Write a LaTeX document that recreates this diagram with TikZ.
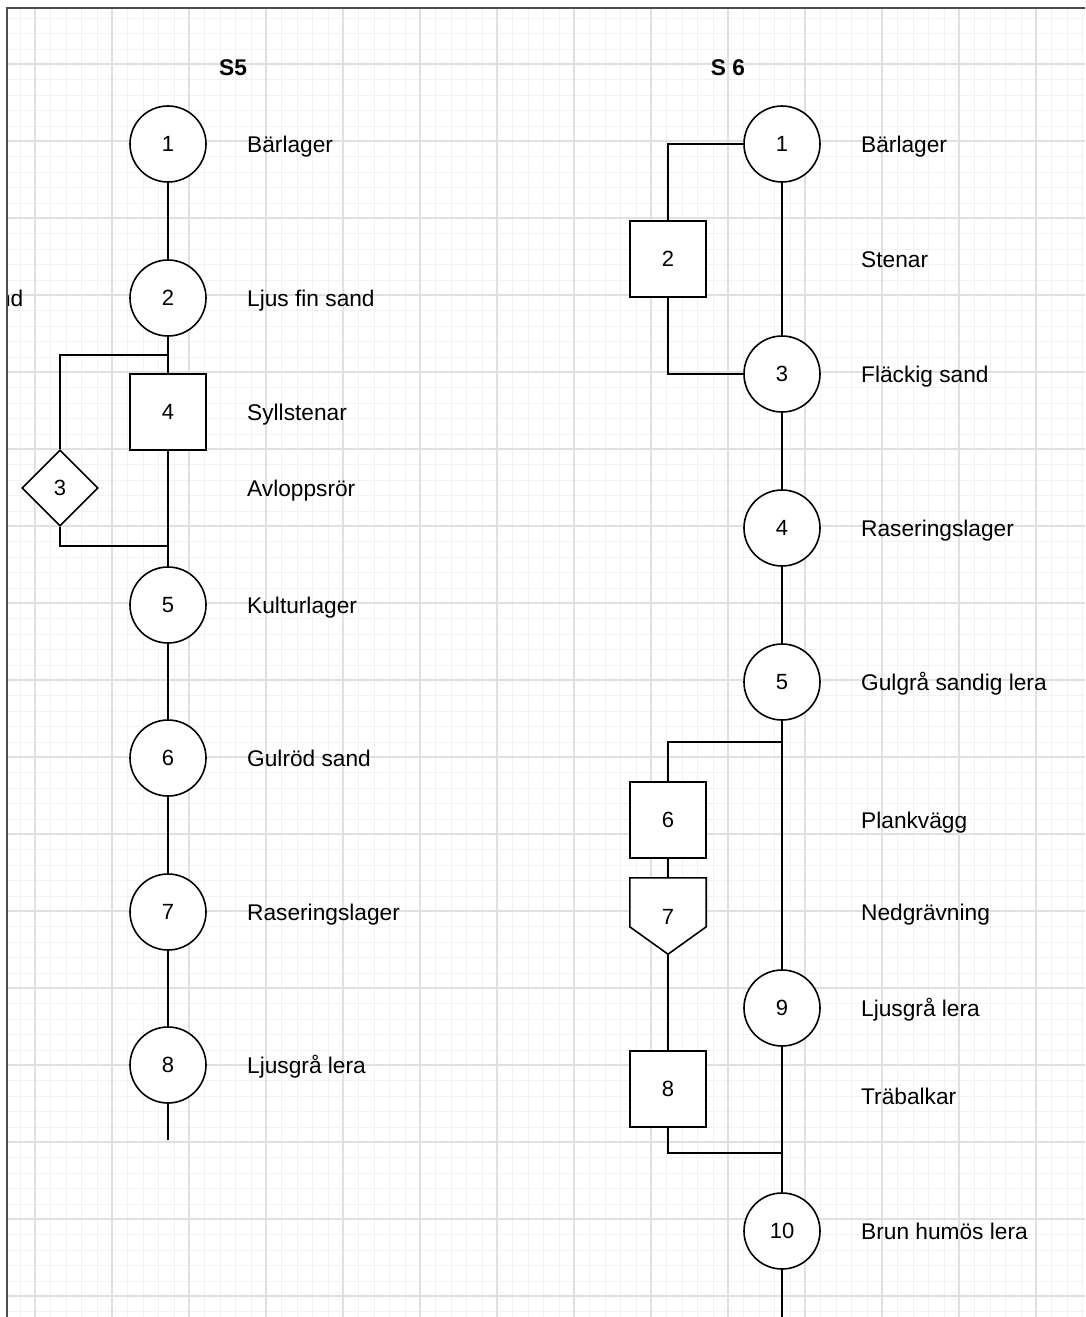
\documentclass[tikz,border=0pt]{standalone}
\usepackage{fontspec}
\setmainfont{Liberation Sans}
\usetikzlibrary{shapes.geometric,calc}
\tikzset{
  circ/.style={circle, draw, line width=1.6pt, fill=white, minimum size=76pt, inner sep=0pt, font=\fontsize{22}{26}\selectfont},
  sqbox/.style={rectangle, draw, line width=1.6pt, fill=white, minimum size=76pt, inner sep=0pt, font=\fontsize{22}{26}\selectfont},
  diabox/.style={diamond, draw, line width=1.6pt, fill=white, minimum width=76pt, minimum height=76pt, inner sep=0pt, aspect=1, font=\fontsize{22}{26}\selectfont},
  pentbox/.style={rectangle, minimum width=76pt, minimum height=76pt, inner sep=0pt},
  lbl/.style={anchor=base west, inner sep=0pt, font=\fontsize{22.7}{26}\selectfont},
  ttl/.style={anchor=center, inner sep=0pt, font=\fontsize{22.7}{26}\selectfont\bfseries},
  conn/.style={line width=1.6pt},
  gmajor/.style={line width=2pt, color=black!12},
  gminor/.style={line width=1pt, color=black!5},
}
\begin{document}
\begin{tikzpicture}[x=1pt,y=-1pt]
\useasboundingbox (0,0) rectangle (1085,1317);
\fill[white] (0,0) rectangle (1085,1317);
% grid
\begin{scope}
\clip (7,8) rectangle (1085,1317);
\foreach \i in {0,...,75} {\draw[gminor] ({round(-42+\i*15.4)+0.5},8) -- ({round(-42+\i*15.4)+0.5},1317);}
\foreach \i in {0,...,90} {\draw[gminor] (7,{round(-13+\i*15.4)+0.5}) -- (1085,{round(-13+\i*15.4)+0.5});}
\foreach \i in {0,...,15} {\draw[gmajor] ({-42+\i*77},8) -- ({-42+\i*77},1317);}
\foreach \i in {0,...,18} {\draw[gmajor] (7,{-13+\i*77}) -- (1085,{-13+\i*77});}
\node[anchor=base east, inner sep=0pt, font=\fontsize{22.7}{26}\selectfont] (lsand) at (23.5,306) {sand};
\end{scope}
\draw[line width=1.5pt, black!70] (7,1317) -- (7,8) -- (1085,8);

% titles
\node[ttl] (t5) at (233,68) {S5};
\node[ttl] (t6) at (728,68) {S 6};

% S5 column
\node[circ] (a1) at (168,144) {1};
\node[circ] (a2) at (168,298) {2};
\node[sqbox] (a4) at (168,412) {4};
\node[diabox] (a3) at (60,488) {3};
\node[circ] (a5) at (168,605) {5};
\node[circ] (a6) at (168,758) {6};
\node[circ] (a7) at (168,912) {7};
\node[circ] (a8) at (168,1065) {8};
\coordinate (a4j) at (168,355);
\coordinate (a5j) at (168,546);
\coordinate (a8e) at (168,1140);

\draw[conn] (a1) -- (a2);
\draw[conn] (a2) -- (a4);
\draw[conn] (a4j) -| (a3.north);
\draw[conn] (a4) -- (a5);
\draw[conn] (a3.south) |- (a5j);
\draw[conn] (a5) -- (a6);
\draw[conn] (a6) -- (a7);
\draw[conn] (a7) -- (a8);
\draw[conn] (a8) -- (a8e);

\node[lbl] (la1) at (247,152) {Bärlager};
\node[lbl] (la2) at (247,306) {Ljus fin sand};
\node[lbl] (la4) at (247,420) {Syllstenar};
\node[lbl] (la3) at (247,496) {Avloppsrör};
\node[lbl] (la5) at (247,613) {Kulturlager};
\node[lbl] (la6) at (247,766) {Gulröd sand};
\node[lbl] (la7) at (247,920) {Raseringslager};
\node[lbl] (la8) at (247,1073) {Ljusgrå lera};

% S6 column
\node[circ] (b1) at (782,144) {1};
\node[sqbox] (b2) at (668,259) {2};
\node[circ] (b3) at (782,374) {3};
\node[circ] (b4) at (782,528) {4};
\node[circ] (b5) at (782,682) {5};
\node[sqbox] (b6) at (668,820) {6};
\node[pentbox] (b7) at (668,916) {};
\draw[conn, fill=white] (b7.north west) -- (b7.north east) -- ($(b7.north east)+(0,49)$) -- (b7.south) -- ($(b7.north west)+(0,49)$) -- cycle;
\node[inner sep=0pt, font=\fontsize{22}{26}\selectfont] (b7t) at (668,917) {7};
\node[sqbox] (b8) at (668,1089) {8};
\node[circ] (b9) at (782,1008) {9};
\node[circ] (b10) at (782,1231) {10};
\coordinate (b5j) at (782,742);
\coordinate (b8j) at (782,1153);
\coordinate (b10e) at (782,1317);

\draw[conn] (b1) -- (b3);
\draw[conn] (b1.west) -| (b2.north);
\draw[conn] (b2.south) |- (b3.west);
\draw[conn] (b3) -- (b4);
\draw[conn] (b4) -- (b5);
\draw[conn] (b5) -- (b9);
\draw[conn] (b5j) -| (b6.north);
\draw[conn] (b6.south) -- (b7.north);
\draw[conn] (b7.south) -- (b8.north);
\draw[conn] (b8.south) |- (b8j);
\draw[conn] (b9) -- (b10);
\draw[conn] (b10) -- (b10e);

\node[lbl] (lb1) at (861,152) {Bärlager};
\node[lbl] (lb2) at (861,267) {Stenar};
\node[lbl] (lb3) at (861,382) {Fläckig sand};
\node[lbl] (lb4) at (861,536) {Raseringslager};
\node[lbl] (lb5) at (861,690) {Gulgrå sandig lera};
\node[lbl] (lb6) at (861,828) {Plankvägg};
\node[lbl] (lb7) at (861,920) {Nedgrävning};
\node[lbl] (lb9) at (861,1016) {Ljusgrå lera};
\node[lbl] (lb8) at (861,1104) {Träbalkar};
\node[lbl] (lb10) at (861,1239) {Brun humös lera};
\end{tikzpicture}
\end{document}
